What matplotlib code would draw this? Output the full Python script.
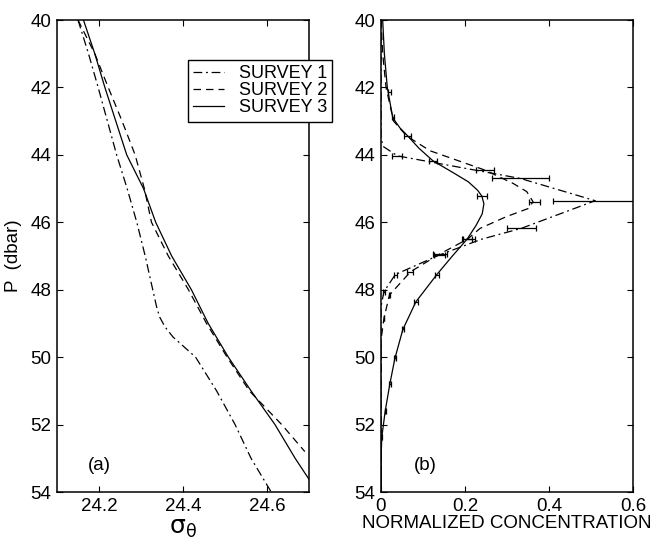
import numpy as np
import matplotlib
matplotlib.use("Agg")
import matplotlib.pyplot as plt

plt.rcParams["font.family"] = ["Liberation Sans", "DejaVu Sans"]
plt.rcParams["mathtext.fontset"] = "dejavusans"

# (a) potential density profiles
p_s1 = [40, 41, 42, 43, 44, 45, 46, 47, 48, 48.5, 48.8, 49.1, 49.4, 49.7, 50,
        51, 52, 53, 54]
sig_s1 = [24.150, 24.175, 24.198, 24.220, 24.242, 24.267, 24.290, 24.310,
          24.328, 24.337, 24.344, 24.357, 24.376, 24.403, 24.430, 24.480,
          24.524, 24.562, 24.610]

p_s2 = [40, 41, 42, 43, 44, 45, 46, 47, 48, 49, 50, 51, 52, 52.8]
sig_s2 = [24.150, 24.190, 24.222, 24.255, 24.286, 24.308, 24.325, 24.365,
          24.413, 24.456, 24.505, 24.558, 24.635, 24.690]

p_s3 = [40, 41, 42, 43, 44, 45, 46, 47, 48, 49, 50, 51, 52, 53, 54]
sig_s3 = [24.163, 24.190, 24.214, 24.240, 24.266, 24.306, 24.335, 24.373,
          24.420, 24.460, 24.508, 24.562, 24.619, 24.667, 24.720]

# (b) normalized dye concentration
p_c1 = [40, 43.5, 43.75, 44.03, 44.70, 45.36, 46.18, 46.50, 46.97, 47.55, 48.06, 48.5, 54]
c_c1 = [0, 0, 0.005, 0.039, 0.332, 0.510, 0.334, 0.240, 0.139, 0.034, 0.007, 0, 0]
ep_c1 = [44.03, 44.70, 45.36, 46.18, 46.97, 47.55, 48.06]
ec_c1 = [0.039, 0.332, 0.510, 0.334, 0.139, 0.034, 0.007]
ee_c1 = [0.012, 0.067, 0.100, 0.035, 0.013, 0.004, 0.002]

p_c2 = [40, 41, 42, 43, 43.44, 43.88, 44.45, 44.85, 45.09, 45.39, 45.59, 45.83,
        46.18, 46.50, 46.94, 47.47, 48.16, 48.85, 49.5, 54]
c_c2 = [0, 0.004, 0.012, 0.030, 0.061, 0.117, 0.247, 0.315, 0.347, 0.362, 0.351,
        0.299, 0.236, 0.206, 0.140, 0.070, 0.020, 0.007, 0, 0]
ep_c2 = [42.15, 42.89, 44.45, 45.39, 46.50, 46.94, 47.47, 48.16, 48.85]
ec_c2 = [0.020, 0.028, 0.247, 0.365, 0.210, 0.140, 0.070, 0.020, 0.007]
ee_c2 = [0.003, 0.003, 0.022, 0.013, 0.014, 0.016, 0.007, 0.002, 0.001]

p_c3 = [40, 41, 42, 42.9, 43.2, 43.43, 43.8, 44.18, 44.5, 44.8, 45.05, 45.22,
        45.45, 45.75, 46.1, 46.5, 47.0, 47.55, 48.36, 49.18, 50.04, 50.8, 51.6,
        52.36, 53, 54]
c_c3 = [0.004, 0.008, 0.015, 0.028, 0.045, 0.063, 0.090, 0.124, 0.168, 0.208,
        0.230, 0.240, 0.245, 0.241, 0.226, 0.205, 0.170, 0.133, 0.083, 0.052,
        0.033, 0.021, 0.010, 0.002, 0, 0]
ep_c3 = [43.43, 44.18, 45.22, 46.50, 47.55, 48.36, 49.18, 50.04, 50.8, 51.6, 52.36]
ec_c3 = [0.063, 0.124, 0.240, 0.205, 0.133, 0.083, 0.052, 0.033, 0.021, 0.010, 0.002]
ee_c3 = [0.008, 0.009, 0.012, 0.012, 0.005, 0.004, 0.003, 0.002, 0.002, 0.001, 0.001]

labels = ["SURVEY 1", "SURVEY 2", "SURVEY 3"]

fs = 13.5
lw = 0.9
dashdot = (0, (7, 3, 1.5, 3))
dashed = (0, (6, 4))

fig = plt.figure(figsize=(6.53, 5.41), dpi=100)
ax1 = fig.add_axes([57 / 653, 49 / 541, 252 / 653, 472 / 541])
ax2 = fig.add_axes([381 / 653, 49 / 541, 252 / 653, 472 / 541])

h1, = ax1.plot(sig_s1, p_s1, color="k", lw=lw, linestyle=dashdot)
h2, = ax1.plot(sig_s2, p_s2, color="k", lw=lw, linestyle=dashed)
h3, = ax1.plot(sig_s3, p_s3, color="k", lw=lw, linestyle="-")

ax2.plot(c_c1, p_c1, color="k", lw=lw, linestyle=dashdot)
ax2.plot(c_c2, p_c2, color="k", lw=lw, linestyle=dashed)
ax2.plot(c_c3, p_c3, color="k", lw=lw, linestyle="-")
for ep, ec, ee in [(ep_c1, ec_c1, ee_c1), (ep_c2, ec_c2, ee_c2), (ep_c3, ec_c3, ee_c3)]:
    ax2.errorbar(ec, ep, xerr=ee, fmt="none", ecolor="k", elinewidth=lw,
                 capsize=2.5, capthick=lw)

ax1.set_xlim(24.1, 24.7)
ax1.set_xticks([24.2, 24.4, 24.6])
ax1.set_xticklabels(["24.2", "24.4", "24.6"])
ax2.set_xlim(0, 0.6)
ax2.set_xticks([0, 0.2, 0.4, 0.6])
ax2.set_xticklabels(["0", "0.2", "0.4", "0.6"])

for ax in (ax1, ax2):
    ax.set_ylim(54, 40)
    ax.set_yticks(np.arange(40, 55, 2))
    ax.tick_params(direction="in", top=True, right=True, length=4,
                   width=0.8, labelsize=fs, pad=4)
    for s in ax.spines.values():
        s.set_linewidth(1.1)

ax1.set_ylabel("P  (dbar)", fontsize=fs, labelpad=6)
ax1.set_xlabel(r"$\mathrm{\sigma_\theta}$", fontsize=18, labelpad=1)
ax2.set_xlabel("NORMALIZED CONCENTRATION", fontsize=fs, labelpad=0)

ax1.text(24.2, 53.2, "(a)", fontsize=fs, ha="center", va="center")
ax2.text(0.105, 53.2, "(b)", fontsize=fs, ha="center", va="center")

leg = ax1.legend([h1, h2, h3], labels, loc="upper left",
                 bbox_to_anchor=(188 / 653, 1 - 60 / 541),
                 bbox_transform=fig.transFigure, fontsize=13, frameon=True,
                 fancybox=False, edgecolor="k", framealpha=1,
                 borderpad=0.3, labelspacing=0.0, handlelength=1.7,
                 handletextpad=0.8, borderaxespad=0)
leg.get_frame().set_linewidth(1.0)

fig.savefig("out.png", dpi=100)
